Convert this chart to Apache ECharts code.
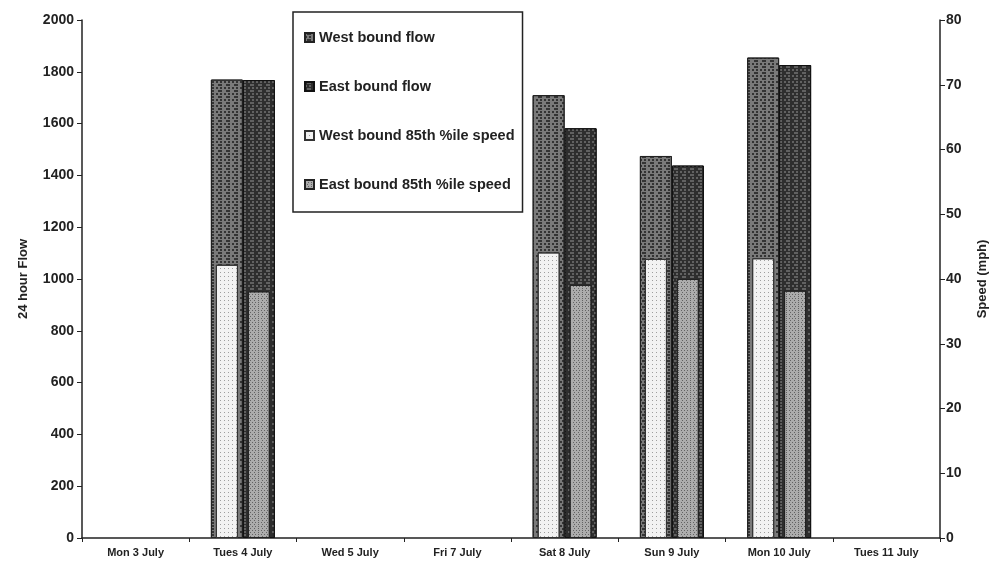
<!DOCTYPE html>
<html><head><meta charset="utf-8">
<script src="https://cdn.jsdelivr.net/npm/echarts@6/dist/echarts.min.js"></script>
<style>html,body{margin:0;padding:0;background:#fff}#c{width:997px;height:565px}</style>
</head><body><div id="c"></div>
<script>
const categories = ['Mon 3 July','Tues 4 July','Wed 5 July','Fri 7 July','Sat 8 July','Sun 9 July','Mon 10 July','Tues 11 July'];
const westFlow  = [null, 1770, null, null, 1710, 1475, 1855, null];
const eastFlow  = [null, 1768, null, null, 1582, 1438, 1826, null];
const westSpeed = [null, 42.2, null, null, 44.1, 43.1, 43.2, null];
const eastSpeed = [null, 38.1, null, null, 39.1, 40.0, 38.2, null];
const seriesNames = ['West bound flow','East bound flow','West bound 85th %ile speed','East bound 85th %ile speed'];

const FONT = 'Liberation Sans, Arial, sans-serif';
const axisCol = '#222';

function decal(color, dx, dy, size){
  return {symbol:'rect', symbolSize:size, dashArrayX:dx, dashArrayY:dy, color:color, rotation:0};
}

const chart = echarts.init(document.getElementById('c'), null, {renderer:'canvas'});
chart.setOption({
  backgroundColor:'#fff',
  animation:false,
  grid:{left:82, right:47, top:20, bottom:27, containLabel:false},
  legend:{
    data:seriesNames, orient:'vertical', left:293, top:12,
    itemGap:34, itemWidth:9, itemHeight:9, icon:'rect',
    padding:[18,8,20,11], borderColor:'#222', borderWidth:1.5, backgroundColor:'#fff',
    textStyle:{fontFamily:FONT, fontSize:14.5, fontWeight:'bold', color:'#222'}
  },
  xAxis:[
    {type:'category', data:categories, gridIndex:0,
     axisLine:{lineStyle:{color:axisCol, width:1.5}},
     axisTick:{show:true, length:4, alignWithLabel:false, lineStyle:{color:axisCol}},
     axisLabel:{fontFamily:FONT, fontSize:11, fontWeight:'bold', color:'#222', margin:9, interval:0},
     splitLine:{show:false}},
    {type:'category', data:categories, gridIndex:0, show:false}
  ],
  yAxis:[
    {type:'value', min:0, max:2000, interval:200, position:'left',
     name:'24 hour Flow', nameLocation:'middle', nameGap:52, nameRotate:90,
     nameTextStyle:{fontFamily:FONT, fontSize:13, fontWeight:'bold', color:'#222'},
     axisLine:{show:true, lineStyle:{color:axisCol, width:1.5}},
     axisTick:{show:true, length:5, lineStyle:{color:axisCol}},
     axisLabel:{fontFamily:FONT, fontSize:14, fontWeight:'bold', color:'#222', margin:8,
       formatter:function(v){return String(v);}},
     splitLine:{show:false}},
    {type:'value', min:0, max:80, interval:10, position:'right',
     name:'Speed (mph)', nameLocation:'middle', nameGap:36, nameRotate:90,
     nameTextStyle:{fontFamily:FONT, fontSize:13, fontWeight:'bold', color:'#222'},
     axisLine:{show:true, lineStyle:{color:axisCol, width:1.5}},
     axisTick:{show:true, length:5, lineStyle:{color:axisCol}},
     axisLabel:{fontFamily:FONT, fontSize:14, fontWeight:'bold', color:'#222', margin:6,
       formatter:function(v){return String(v);}},
     splitLine:{show:false}}
  ],
  series:[
    {name:seriesNames[0], type:'bar', xAxisIndex:0, yAxisIndex:0, data:westFlow,
     barWidth:32, barGap:'0%',
     itemStyle:{color:'#7a7a7a', borderColor:'#222', borderWidth:1,
       decal:decal('rgba(30,30,30,0.75)', [[2,2],[0,2,2]], [2,1], 1)}},
    {name:seriesNames[1], type:'bar', xAxisIndex:0, yAxisIndex:0, data:eastFlow,
     barWidth:32, barGap:'0%',
     itemStyle:{color:'#2e2e2e', borderColor:'#111', borderWidth:1,
       decal:decal('rgba(140,140,140,0.55)', [[2,2],[0,2,2]], [2,1], 1)}},
    {name:seriesNames[2], type:'bar', xAxisIndex:1, yAxisIndex:1, data:westSpeed,
     barWidth:22, barGap:'45%', z:3,
     itemStyle:{color:'#f2f2f2', borderColor:'#333', borderWidth:1,
       decal:decal('rgba(90,90,90,0.55)', [1,3], [1,3], 1)}},
    {name:seriesNames[3], type:'bar', xAxisIndex:1, yAxisIndex:1, data:eastSpeed,
     barWidth:22, barGap:'45%', z:3,
     itemStyle:{color:'#acacac', borderColor:'#222', borderWidth:1,
       decal:decal('rgba(50,50,50,0.6)', [[1,2],[0,1.5,1,0.5]], [1,1], 1)}}
  ]
});
</script></body></html>
